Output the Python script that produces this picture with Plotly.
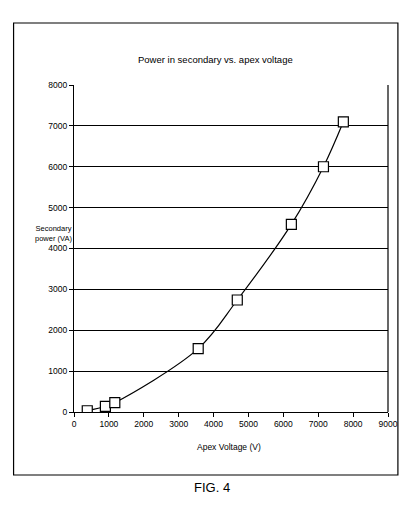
import plotly.graph_objects as go

apex_voltage = [380, 900, 1170, 3560, 4680, 6230, 7150, 7720]
secondary_power = [30, 140, 230, 1550, 2740, 4590, 6000, 7100]
x_ticks = [0, 1000, 2000, 3000, 4000, 5000, 6000, 7000, 8000, 9000]
y_ticks = [0, 1000, 2000, 3000, 4000, 5000, 6000, 7000, 8000]

FONT = "Liberation Sans, Arial, sans-serif"

W, H = 410, 529
L, R, T, B = 74, 391, 85, 412
pw, ph = R - L, B - T

def px(x):
    return (x - L) / pw

def py(y):
    return (B - y) / ph

fig = go.Figure()
fig.add_trace(go.Scatter(
    x=apex_voltage, y=secondary_power, mode="lines",
    line=dict(color="black", width=1.2, shape="spline", smoothing=1.0),
    hoverinfo="skip", showlegend=False))
fig.add_trace(go.Scatter(
    x=apex_voltage, y=secondary_power, mode="markers",
    marker=dict(symbol="square", size=10, color="white",
                line=dict(color="black", width=1.2)),
    showlegend=False))

axis_common = dict(showline=True, linecolor="black", linewidth=1.2,
                   ticks="outside", ticklen=4, tickcolor="black",
                   tickfont=dict(family=FONT, size=8.5, color="black"),
                   zeroline=False, mirror=False)

fig.update_xaxes(range=[0, 9000], tickvals=x_ticks, showgrid=False, **axis_common)
fig.update_yaxes(range=[0, 8000], tickvals=y_ticks, showgrid=True,
                 gridcolor="black", gridwidth=1, **axis_common)

shapes = [
    dict(type="rect", xref="paper", yref="paper", x0=px(13), x1=px(401),
         y0=py(475), y1=py(23), line=dict(color="black", width=1.2)),
    dict(type="line", xref="paper", yref="paper", x0=1, x1=1, y0=0, y1=1,
         line=dict(color="black", width=1.2)),
]

annotations = [
    dict(text="Power in secondary vs. apex voltage", x=px(217), y=py(52),
         xref="paper", yref="paper", showarrow=False,
         font=dict(family=FONT, size=9.5, color="black")),
    dict(text="Secondary<br>power (VA)", x=px(33), y=py(233),
         xref="paper", yref="paper", showarrow=False,
         font=dict(family=FONT, size=7.5, color="black")),
    dict(text="Apex Voltage (V)", x=px(230), y=py(454),
         xref="paper", yref="paper", showarrow=False,
         font=dict(family=FONT, size=8.5, color="black")),
    dict(text="FIG. 4", x=px(213), y=py(497),
         xref="paper", yref="paper", showarrow=False,
         font=dict(family=FONT, size=13, color="black")),
]

fig.update_layout(
    width=W, height=H,
    margin=dict(l=L, r=W - R, t=T, b=H - B, pad=0),
    paper_bgcolor="white", plot_bgcolor="white",
    shapes=shapes, annotations=annotations,
    showlegend=False,
)

fig.write_html("out.html")
